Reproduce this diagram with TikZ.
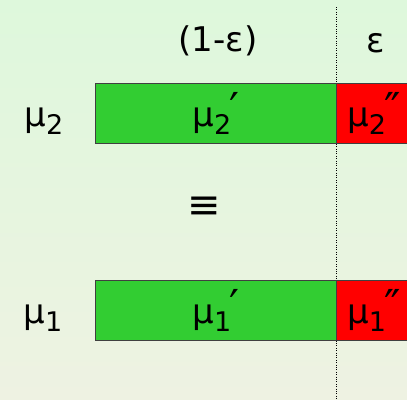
\documentclass[tikz,border=0pt]{standalone}
\usepackage{fontspec}
\setmainfont{DejaVu Sans}
\usepackage{tikz}
\usetikzlibrary{positioning}
\definecolor{bgtop}{RGB}{222,248,220}
\definecolor{bgbot}{RGB}{238,242,226}
\definecolor{partgreen}{RGB}{50,205,50}
\definecolor{partred}{RGB}{255,0,0}
\newcommand{\subidx}[1]{\raisebox{-0.4ex}{\fontsize{27}{27}\selectfont #1}}
\newcommand{\primemark}[1]{\kern-2pt\raisebox{0.1ex}{\fontsize{44}{44}\selectfont #1}}

\begin{document}
\begin{tikzpicture}[x=1pt,y=1pt,font=\fontsize{34}{40}\selectfont,
  part/.style={draw=black!75, line width=0.8pt, minimum height=60pt, inner sep=0pt, anchor=north west},
  good/.style={part, fill=partgreen, minimum width=241pt},
  bad/.style={part, fill=partred, minimum width=75pt},
  sep/.style={line width=0.8pt, dash pattern=on 0.8pt off 1.6pt}
]
% Frame and background
\useasboundingbox (0,0) rectangle (407,-399);
\clip (0,0) rectangle (407,-399);
\shade[top color=bgtop, bottom color=bgbot] (0,0) rectangle (407,-399);

% Bar positions
\def\xl{95} \def\xs{336}
\def\ytop{-83} \def\ybot{-280}

% Split line
\coordinate (stop) at (\xs,-7);
\coordinate (sbot) at (\xs,-399);
\draw[sep] (stop) -- (sbot);

% Bars
\node[good] (gtwo) at (\xl,\ytop) {μ\subidx{2}\primemark{′}};
\node[bad]  (rtwo) at (\xs,\ytop) {μ\subidx{2}\primemark{″}};
\node[good] (gone) at (\xl,\ybot) {μ\subidx{1}\primemark{′}};
\node[bad]  (rone) at (\xs,\ybot) {μ\subidx{1}\primemark{″}};

% Labels
\node (mtwo) at (44,-121) {μ\subidx{2}};
\node (mone) at (43,-318) {μ\subidx{1}};
\node[font=\fontsize{40}{40}\selectfont] (eqv) at (204,-208) {≡};
\node (share) at (218,-41) {(1-ε)};
\node (eps)   at (376,-43) {ε};
\end{tikzpicture}
\end{document}
